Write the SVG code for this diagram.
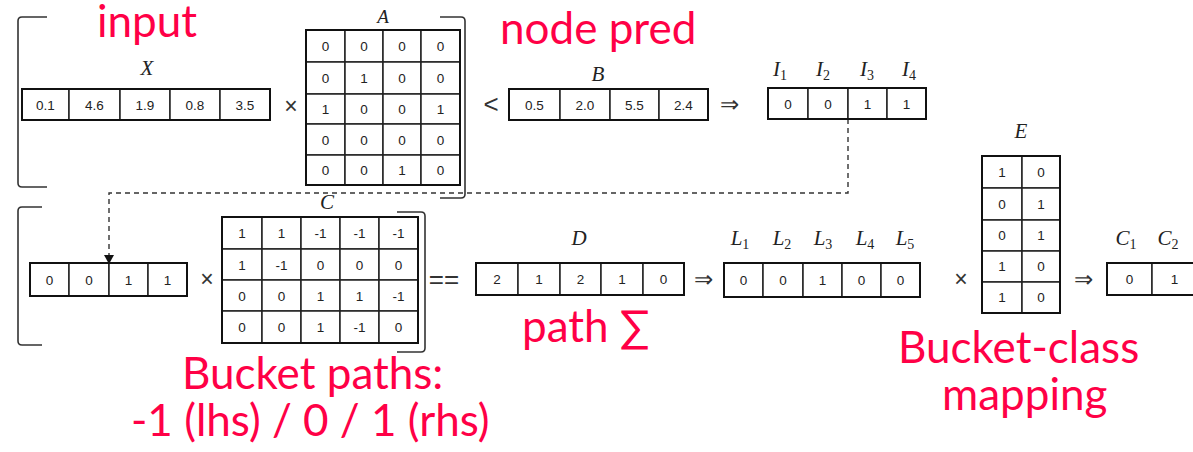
<svg xmlns="http://www.w3.org/2000/svg" width="1193" height="452" viewBox="0 0 1193 452">
  <style>
    .cell { fill: #fff; stroke: #222; stroke-width: 1.5; }
    .frame { fill: none; stroke: #111; stroke-width: 2; }
    .num { font-family: "Liberation Sans", Arial, sans-serif; font-size: 13.5px; fill: #222; text-anchor: middle; }
    .lbl { font-family: "Liberation Serif", "Times New Roman", serif; font-style: italic; font-size: 21px; fill: #222; text-anchor: middle; }
    .sub { font-size: 14px; font-style: normal; }
    .op { font-family: "Liberation Sans", Arial, sans-serif; font-size: 23px; fill: #333; text-anchor: middle; }
    .brk { fill: none; stroke: #333; stroke-width: 1.6; }
    .note { font-family: Lato, "Open Sans", sans-serif; font-size: 44px; fill: #FF0046; }
    .dash { fill: none; stroke: #333; stroke-width: 1.4; stroke-dasharray: 5 4; }
  </style>
  <rect width="1193" height="452" fill="#fff"/>

  <!-- brackets around the two stages -->
  <g id="brackets">
    <path class="brk" d="M47,17 L22,17 Q18,17 18,21 L18,183 Q18,187 22,187 L47,187"/>
    <path class="brk" d="M440,17 L461,17 Q465,17 465,21 L465,194 Q465,198 461,198 L440,198"/>
    <path class="brk" d="M42,207 L22,207 Q18,207 18,211 L18,341 Q18,345 22,345 L42,345"/>
    <path class="brk" d="M397,212 L421,212 Q425,212 425,216 L425,348 Q425,352 421,352 L397,352"/>
  </g>

  <!-- connectors -->
  <g id="connectors">
    <path class="dash" d="M848,119 L848,193 L109,193 L109,258"/>
    <path d="M104,255 L114,255 L109,264 Z" fill="#111"/>
  </g>

  <!-- input vector X -->
  <g id="X">
    <text class="lbl" x="147" y="75">X</text>
    <rect class="cell" x="22" y="89" width="47" height="31"/>
    <rect class="cell" x="69" y="89" width="51" height="31"/>
    <rect class="cell" x="120" y="89" width="50" height="31"/>
    <rect class="cell" x="170" y="89" width="50" height="31"/>
    <rect class="cell" x="220" y="89" width="50" height="31"/>
    <rect class="frame" x="22" y="89" width="248" height="31"/>
    <text class="num" x="45.5" y="109.5">0.1</text>
    <text class="num" x="94.5" y="109.5">4.6</text>
    <text class="num" x="145" y="109.5">1.9</text>
    <text class="num" x="195" y="109.5">0.8</text>
    <text class="num" x="245" y="109.5">3.5</text>
  </g>

  <text class="op" x="291" y="114">×</text>

  <!-- selection matrix A -->
  <g id="A">
    <text class="lbl" x="383" y="23" style="font-size:19px">A</text>
    <g>
      <rect class="cell" x="306" y="30" width="39" height="32"/><rect class="cell" x="345" y="30" width="38" height="32"/><rect class="cell" x="383" y="30" width="38" height="32"/><rect class="cell" x="421" y="30" width="39" height="32"/>
      <rect class="cell" x="306" y="62" width="39" height="32"/><rect class="cell" x="345" y="62" width="38" height="32"/><rect class="cell" x="383" y="62" width="38" height="32"/><rect class="cell" x="421" y="62" width="39" height="32"/>
      <rect class="cell" x="306" y="94" width="39" height="30"/><rect class="cell" x="345" y="94" width="38" height="30"/><rect class="cell" x="383" y="94" width="38" height="30"/><rect class="cell" x="421" y="94" width="39" height="30"/>
      <rect class="cell" x="306" y="124" width="39" height="31"/><rect class="cell" x="345" y="124" width="38" height="31"/><rect class="cell" x="383" y="124" width="38" height="31"/><rect class="cell" x="421" y="124" width="39" height="31"/>
      <rect class="cell" x="306" y="155" width="39" height="30"/><rect class="cell" x="345" y="155" width="38" height="30"/><rect class="cell" x="383" y="155" width="38" height="30"/><rect class="cell" x="421" y="155" width="39" height="30"/>
    </g>
    <rect class="frame" x="306" y="30" width="154" height="155"/>
    <text class="num" x="325.5" y="51">0</text><text class="num" x="364" y="51">0</text><text class="num" x="402" y="51">0</text><text class="num" x="440.5" y="51">0</text>
    <text class="num" x="325.5" y="83">0</text><text class="num" x="364" y="83">1</text><text class="num" x="402" y="83">0</text><text class="num" x="440.5" y="83">0</text>
    <text class="num" x="325.5" y="114">1</text><text class="num" x="364" y="114">0</text><text class="num" x="402" y="114">0</text><text class="num" x="440.5" y="114">1</text>
    <text class="num" x="325.5" y="144.5">0</text><text class="num" x="364" y="144.5">0</text><text class="num" x="402" y="144.5">0</text><text class="num" x="440.5" y="144.5">0</text>
    <text class="num" x="325.5" y="175">0</text><text class="num" x="364" y="175">0</text><text class="num" x="402" y="175">1</text><text class="num" x="440.5" y="175">0</text>
  </g>

  <text class="op" x="491" y="113" style="font-size:26px">&lt;</text>

  <!-- thresholds B -->
  <g id="B">
    <text class="lbl" x="598" y="81">B</text>
    <rect class="cell" x="509" y="89" width="51" height="31"/>
    <rect class="cell" x="560" y="89" width="50" height="31"/>
    <rect class="cell" x="610" y="89" width="49" height="31"/>
    <rect class="cell" x="659" y="89" width="49" height="31"/>
    <rect class="frame" x="509" y="89" width="199" height="31"/>
    <text class="num" x="534.5" y="109.5">0.5</text>
    <text class="num" x="585" y="109.5">2.0</text>
    <text class="num" x="634.5" y="109.5">5.5</text>
    <text class="num" x="683.5" y="109.5">2.4</text>
  </g>

  <text class="op" x="729" y="112">⇒</text>

  <!-- node indicators I -->
  <g id="I">
    <text class="lbl" x="780" y="76">I<tspan class="sub" dy="4">1</tspan></text>
    <text class="lbl" x="823" y="76">I<tspan class="sub" dy="4">2</tspan></text>
    <text class="lbl" x="867" y="76">I<tspan class="sub" dy="4">3</tspan></text>
    <text class="lbl" x="909" y="76">I<tspan class="sub" dy="4">4</tspan></text>
    <rect class="cell" x="768" y="88" width="40" height="31"/>
    <rect class="cell" x="808" y="88" width="40" height="31"/>
    <rect class="cell" x="848" y="88" width="39" height="31"/>
    <rect class="cell" x="887" y="88" width="39" height="31"/>
    <rect class="frame" x="768" y="88" width="158" height="31"/>
    <text class="num" x="788" y="108.5">0</text>
    <text class="num" x="828" y="108.5">0</text>
    <text class="num" x="867.5" y="108.5">1</text>
    <text class="num" x="906.5" y="108.5">1</text>
  </g>

  <!-- copied indicator vector -->
  <g id="Icopy">
    <rect class="cell" x="30" y="263" width="39" height="33"/>
    <rect class="cell" x="69" y="263" width="40" height="33"/>
    <rect class="cell" x="109" y="263" width="39" height="33"/>
    <rect class="cell" x="148" y="263" width="39" height="33"/>
    <rect class="frame" x="30" y="263" width="157" height="33"/>
    <text class="num" x="49.5" y="284.5">0</text>
    <text class="num" x="89" y="284.5">0</text>
    <text class="num" x="128.5" y="284.5">1</text>
    <text class="num" x="167.5" y="284.5">1</text>
  </g>

  <text class="op" x="207" y="287">×</text>

  <!-- bucket path matrix C -->
  <g id="C">
    <text class="lbl" x="327" y="209">C</text>
    <g>
      <rect class="cell" x="222" y="217" width="40" height="32"/><rect class="cell" x="262" y="217" width="39" height="32"/><rect class="cell" x="301" y="217" width="39" height="32"/><rect class="cell" x="340" y="217" width="39" height="32"/><rect class="cell" x="379" y="217" width="39" height="32"/>
      <rect class="cell" x="222" y="249" width="40" height="31"/><rect class="cell" x="262" y="249" width="39" height="31"/><rect class="cell" x="301" y="249" width="39" height="31"/><rect class="cell" x="340" y="249" width="39" height="31"/><rect class="cell" x="379" y="249" width="39" height="31"/>
      <rect class="cell" x="222" y="280" width="40" height="31"/><rect class="cell" x="262" y="280" width="39" height="31"/><rect class="cell" x="301" y="280" width="39" height="31"/><rect class="cell" x="340" y="280" width="39" height="31"/><rect class="cell" x="379" y="280" width="39" height="31"/>
      <rect class="cell" x="222" y="311" width="40" height="32"/><rect class="cell" x="262" y="311" width="39" height="32"/><rect class="cell" x="301" y="311" width="39" height="32"/><rect class="cell" x="340" y="311" width="39" height="32"/><rect class="cell" x="379" y="311" width="39" height="32"/>
    </g>
    <rect class="frame" x="222" y="217" width="196" height="126"/>
    <text class="num" x="242" y="238">1</text><text class="num" x="281.5" y="238">1</text><text class="num" x="320.5" y="238">-1</text><text class="num" x="359.5" y="238">-1</text><text class="num" x="398.5" y="238">-1</text>
    <text class="num" x="242" y="269.5">1</text><text class="num" x="281.5" y="269.5">-1</text><text class="num" x="320.5" y="269.5">0</text><text class="num" x="359.5" y="269.5">0</text><text class="num" x="398.5" y="269.5">0</text>
    <text class="num" x="242" y="300.5">0</text><text class="num" x="281.5" y="300.5">0</text><text class="num" x="320.5" y="300.5">1</text><text class="num" x="359.5" y="300.5">1</text><text class="num" x="398.5" y="300.5">-1</text>
    <text class="num" x="242" y="332">0</text><text class="num" x="281.5" y="332">0</text><text class="num" x="320.5" y="332">1</text><text class="num" x="359.5" y="332">-1</text><text class="num" x="398.5" y="332">0</text>
  </g>

  <text class="op" x="444" y="288" style="font-size:26px">==</text>

  <!-- path sums D -->
  <g id="D">
    <text class="lbl" x="579" y="245">D</text>
    <rect class="cell" x="476" y="263" width="42" height="32"/>
    <rect class="cell" x="518" y="263" width="42" height="32"/>
    <rect class="cell" x="560" y="263" width="41" height="32"/>
    <rect class="cell" x="601" y="263" width="42" height="32"/>
    <rect class="cell" x="643" y="263" width="41" height="32"/>
    <rect class="frame" x="476" y="263" width="208" height="32"/>
    <text class="num" x="497" y="284">2</text>
    <text class="num" x="539" y="284">1</text>
    <text class="num" x="580.5" y="284">2</text>
    <text class="num" x="622" y="284">1</text>
    <text class="num" x="663.5" y="284">0</text>
  </g>

  <text class="op" x="703" y="287">⇒</text>

  <!-- leaf indicators L -->
  <g id="L">
    <text class="lbl" x="740" y="245">L<tspan class="sub" dy="4">1</tspan></text>
    <text class="lbl" x="782" y="245">L<tspan class="sub" dy="4">2</tspan></text>
    <text class="lbl" x="823" y="245">L<tspan class="sub" dy="4">3</tspan></text>
    <text class="lbl" x="865" y="245">L<tspan class="sub" dy="4">4</tspan></text>
    <text class="lbl" x="905" y="245">L<tspan class="sub" dy="4">5</tspan></text>
    <rect class="cell" x="724" y="263" width="39" height="34"/>
    <rect class="cell" x="763" y="263" width="40" height="34"/>
    <rect class="cell" x="803" y="263" width="39" height="34"/>
    <rect class="cell" x="842" y="263" width="39" height="34"/>
    <rect class="cell" x="881" y="263" width="39" height="34"/>
    <rect class="frame" x="724" y="263" width="196" height="34"/>
    <text class="num" x="743.5" y="285">0</text>
    <text class="num" x="783" y="285">0</text>
    <text class="num" x="822.5" y="285">1</text>
    <text class="num" x="861.5" y="285">0</text>
    <text class="num" x="900.5" y="285">0</text>
  </g>

  <text class="op" x="961" y="287">×</text>

  <!-- bucket-class mapping E -->
  <g id="E">
    <text class="lbl" x="1021" y="138">E</text>
    <rect class="cell" x="982" y="156" width="40" height="32"/><rect class="cell" x="1022" y="156" width="38" height="32"/>
    <rect class="cell" x="982" y="188" width="40" height="32"/><rect class="cell" x="1022" y="188" width="38" height="32"/>
    <rect class="cell" x="982" y="220" width="40" height="31"/><rect class="cell" x="1022" y="220" width="38" height="31"/>
    <rect class="cell" x="982" y="251" width="40" height="31"/><rect class="cell" x="1022" y="251" width="38" height="31"/>
    <rect class="cell" x="982" y="282" width="40" height="31"/><rect class="cell" x="1022" y="282" width="38" height="31"/>
    <rect class="frame" x="982" y="156" width="78" height="157"/>
    <text class="num" x="1002" y="177">1</text><text class="num" x="1041" y="177">0</text>
    <text class="num" x="1002" y="209">0</text><text class="num" x="1041" y="209">1</text>
    <text class="num" x="1002" y="240">0</text><text class="num" x="1041" y="240">1</text>
    <text class="num" x="1002" y="271">1</text><text class="num" x="1041" y="271">0</text>
    <text class="num" x="1002" y="302">1</text><text class="num" x="1041" y="302">0</text>
  </g>

  <text class="op" x="1083" y="287">⇒</text>

  <!-- class output -->
  <g id="Cout">
    <text class="lbl" x="1126" y="245">C<tspan class="sub" dy="4">1</tspan></text>
    <text class="lbl" x="1168" y="245">C<tspan class="sub" dy="4">2</tspan></text>
    <rect class="cell" x="1107" y="263" width="45" height="32"/>
    <rect class="cell" x="1152" y="263" width="45" height="32"/>
    <rect class="frame" x="1107" y="263" width="90" height="32"/>
    <text class="num" x="1129.5" y="284">0</text>
    <text class="num" x="1174.5" y="284">1</text>
  </g>

  <!-- annotations -->
  <g id="notes">
    <text class="note" x="97" y="37">input</text>
    <text class="note" x="500" y="44">node pred</text>
    <text class="note" x="522" y="342">path ∑</text>
    <text class="note" x="182" y="389">Bucket paths:</text>
    <text class="note" x="131" y="436">-1 (lhs) / 0 / 1 (rhs)</text>
    <text class="note" x="898" y="363">Bucket-class</text>
    <text class="note" x="942" y="410">mapping</text>
  </g>
</svg>
